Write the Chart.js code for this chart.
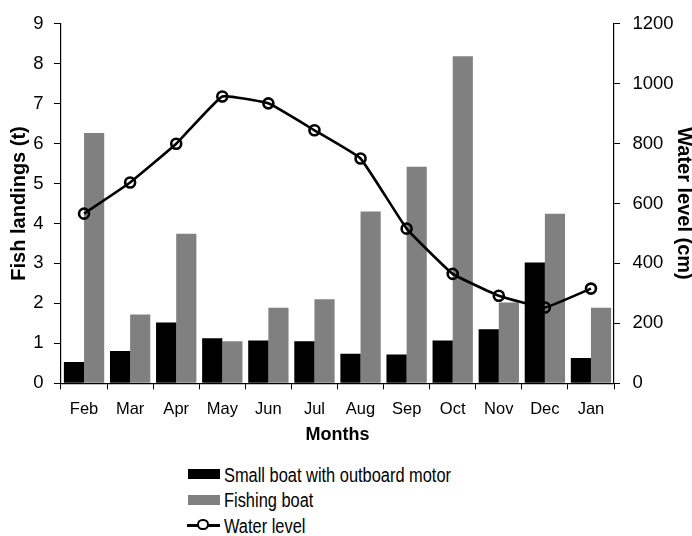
<!DOCTYPE html>
<html>
<head>
<meta charset="utf-8">
<script src="https://cdn.jsdelivr.net/npm/chart.js@4/dist/chart.umd.min.js"></script>
<style>
  html, body { margin: 0; padding: 0; background: #fff; }
  #wrap { position: relative; width: 692px; height: 536px; overflow: hidden; background: #fff; }
  #c { position: absolute; left: 0; top: 0; }
  .row { position: absolute; left: 0; height: 26px; line-height: 26px; font-size: 20px; color: #000; white-space: nowrap; }
  .sw { position: absolute; }
  .txt { position: absolute; left: 224px; top: 0; transform-origin: 0 50%; }
</style>
</head>
<body>
<div id="wrap">
  <canvas id="c" width="692" height="446"></canvas>
  <div id="legend"></div>
</div>
<script>
// ---- data ----
const months = ['Feb','Mar','Apr','May','Jun','Jul','Aug','Sep','Oct','Nov','Dec','Jan'];
const smallBoat = [0.53, 0.81, 1.52, 1.13, 1.07, 1.05, 0.74, 0.72, 1.07, 1.35, 3.02, 0.63];
const fishingBoat = [6.26, 1.72, 3.74, 1.05, 1.89, 2.10, 4.30, 5.42, 8.18, 2.02, 4.24, 1.89];
const waterLevel = [566, 670, 799, 957, 934, 844, 750, 516, 365, 292, 253, 316];
const leftTicks = [0,1,2,3,4,5,6,7,8,9];
const rightTicks = [0,200,400,600,800,1000,1200];
const seriesNames = ['Small boat with outboard motor', 'Fishing boat', 'Water level'];

// font detection for narrow face
function hasFont(name) {
  const cv = document.createElement('canvas').getContext('2d');
  cv.font = '40px monospace';
  const a = cv.measureText('Small boat with outboard motor').width;
  cv.font = '40px "' + name + '", monospace';
  const b = cv.measureText('Small boat with outboard motor').width;
  return Math.abs(a - b) > 1;
}
const narrowOK = hasFont('Liberation Sans Narrow');
const SANS = '"Liberation Sans", Arial, sans-serif';
const NARROW = narrowOK ? '"Liberation Sans Narrow", "Arial Narrow", sans-serif' : SANS;

const TOP = 19.3, BOTTOM = 383.3, LEFTX = 61, RIGHTX = 614, H = 446, W = 692;

const chart = new Chart(document.getElementById('c'), {
  data: {
    labels: months,
    datasets: [
      { type: 'line', label: seriesNames[2], data: waterLevel, yAxisID: 'y1', order: 0,
        borderColor: '#000', borderWidth: 2.6, tension: 0.1,
        pointRadius: 5, pointBorderWidth: 2.6, pointBorderColor: '#000',
        pointBackgroundColor: 'rgba(0,0,0,0)', fill: false },
      { type: 'bar', label: seriesNames[0], data: smallBoat, yAxisID: 'y', order: 1,
        backgroundColor: '#000000', borderWidth: 0,
        barPercentage: 1.0, categoryPercentage: 0.875 },
      { type: 'bar', label: seriesNames[1], data: fishingBoat, yAxisID: 'y', order: 1,
        backgroundColor: '#808080', borderWidth: 0,
        barPercentage: 1.0, categoryPercentage: 0.875 }
    ]
  },
  options: {
    responsive: false,
    animation: false,
    devicePixelRatio: 1,
    layout: { padding: { top: TOP, left: 0, right: 0, bottom: 0 } },
    plugins: { legend: { display: false }, tooltip: { enabled: false } },
    scales: {
      x: {
        type: 'category',
        offset: true,
        grid: { display: true, drawOnChartArea: false, drawTicks: true, tickLength: 6, color: '#000', lineWidth: 1, offset: true },
        border: { display: true, color: '#000', width: 1.2 },
        ticks: { color: '#000', padding: 10, font: { family: NARROW, size: narrowOK ? 17.5 : 16.5 } },
        title: { display: true, text: 'Months', color: '#000', padding: { top: 0, bottom: 0 },
                 font: { family: NARROW, size: narrowOK ? 21 : 18, weight: 'bold', lineHeight: 1.2 } },
        afterFit: s => { s.height = H - BOTTOM; }
      },
      y: {
        position: 'left', min: 0, max: 9,
        afterBuildTicks: s => { s.ticks = leftTicks.map(v => ({ value: v })); },
        grid: { display: true, drawOnChartArea: false, drawTicks: true, tickLength: 7, color: '#000', lineWidth: 1 },
        border: { display: true, color: '#000', width: 1.2 },
        ticks: { color: '#000', padding: 10.5, font: { family: SANS, size: 18.5 }, callback: v => String(v) },
        title: { display: true, text: 'Fish landings (t)', color: '#000', padding: { top: 7, bottom: 0 },
                 font: { family: SANS, size: 20, weight: 'bold', lineHeight: 1.2 } },
        afterFit: s => { s.width = LEFTX; }
      },
      y1: {
        position: 'right', min: 0, max: 1200,
        afterBuildTicks: s => { s.ticks = rightTicks.map(v => ({ value: v })); },
        grid: { display: true, drawOnChartArea: false, drawTicks: true, tickLength: 6, color: '#000', lineWidth: 1 },
        border: { display: true, color: '#000', width: 1.2 },
        ticks: { color: '#000', padding: 12.5, font: { family: SANS, size: 18.5 }, callback: v => String(v) },
        title: { display: true, text: 'Water level (cm)', color: '#000', padding: { top: 0, bottom: 0 },
                 font: { family: SANS, size: 20, weight: 'bold', lineHeight: 0.8 } },
        afterFit: s => { s.width = W - RIGHTX; }
      }
    }
  }
});

// ---- HTML legend built from datasets ----
const legend = document.getElementById('legend');
const order = [1, 2, 0];
order.forEach((di, i) => {
  const ds = chart.data.datasets[di];
  const row = document.createElement('div');
  row.className = 'row';
  row.style.top = (461.6 + i * 25.5) + 'px';
  row.style.width = '692px';
  row.style.fontFamily = NARROW;
  if (ds.type === 'bar') {
    const sw = document.createElement('div');
    sw.className = 'sw';
    sw.style.left = '188px'; sw.style.top = '7.7px';
    sw.style.width = '32px'; sw.style.height = '10px';
    sw.style.background = ds.backgroundColor;
    row.appendChild(sw);
  } else {
    const ln = document.createElement('div');
    ln.className = 'sw';
    ln.style.left = '187px'; ln.style.top = '11px';
    ln.style.width = '33px'; ln.style.height = '3px';
    ln.style.background = ds.borderColor;
    row.appendChild(ln);
    const dot = document.createElement('div');
    dot.className = 'sw';
    dot.style.left = (203.5 - 6.3) + 'px'; dot.style.top = (12.5 - 6.3) + 'px';
    dot.style.width = '7.4px'; dot.style.height = '7.4px';
    dot.style.border = '2.6px solid ' + ds.borderColor;
    dot.style.borderRadius = '50%';
    dot.style.background = '#fff';
    row.appendChild(dot);
  }
  const t = document.createElement('div');
  t.className = 'txt';
  t.textContent = ds.label;
  if (!narrowOK) t.style.transform = 'scaleX(0.82)';
  row.appendChild(t);
  legend.appendChild(row);
});
</script>
</body>
</html>
